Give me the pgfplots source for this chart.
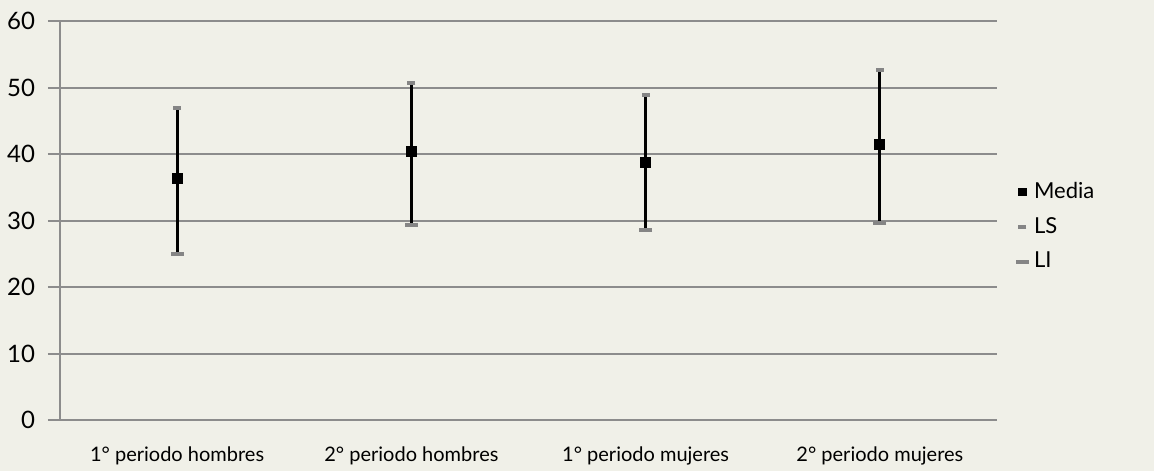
\documentclass[border=0pt]{standalone}
\usepackage{pgfplots}
\pgfplotsset{compat=1.18}
\usepackage{fontspec}
\setmainfont{Lato}
\definecolor{bg}{HTML}{F0F0E8}
\definecolor{gridc}{HTML}{8C8C8C}
\definecolor{markc}{HTML}{858585}
\begin{document}
\begin{tikzpicture}
\useasboundingbox[fill=bg] (0,0) rectangle (577pt,235.5pt);
\begin{axis}[
  at={(30pt,25.5pt)}, anchor=south west,
  scale only axis, width=468.5pt, height=199.5pt,
  xmin=0.5, xmax=4.5, ymin=0, ymax=60,
  xtick={1,2,3,4},
  xticklabels={1° periodo hombres, 2° periodo hombres, 1° periodo mujeres, 2° periodo mujeres},
  minor xtick={0.5,1.5,2.5,3.5,4.5},
  ytick={0,10,...,60},
  axis x line=bottom, axis y line=left,
  axis line style={-, gridc, line width=1pt},
  x tick style={draw=none},
  minor x tick style={gridc, line width=1pt},
  minor tick length=3.5pt,
  y tick style={gridc, line width=1pt},
  major tick length=6pt,
  tick align=outside,
  ymajorgrids, grid style={gridc, line width=1pt},
  /pgf/number format/assume math mode=true,
  tick label style={font=\fontsize{12}{14}\selectfont, text=black},
  yticklabel style={xshift=-3pt},
  xticklabel style={font=\fontsize{10}{12}\selectfont, yshift=-4pt},
  legend style={at={(1.0135,0.485)}, anchor=west, draw=none, fill=none,
    font=\fontsize{11}{13}\selectfont, row sep=4pt,
    nodes={inner xsep=2.6pt}},
  legend cell align=left,
  clip=false,
]
\addplot[draw=none, forget plot, mark=none,
  error bars/.cd, y dir=both, y explicit,
  error bar style={black, line width=1.5pt}, error mark=none]
  coordinates {
  (1,36.3) += (0,10.6) -= (0,11.3)
  (2,40.4) += (0,10.3) -= (0,11.1)
  (3,38.8) += (0,10.0) -= (0,10.3)
  (4,41.5) += (0,11.1) -= (0,11.9)
  };
\addplot[only marks, mark=square*, mark size=2.5pt, black,
  legend image post style={mark size=1.8pt}] coordinates {
  (1,36.3) (2,40.4) (3,38.8) (4,41.5)};
\addlegendentry{Media}
\addplot[only marks, mark=-, mark size=2pt, markc, line width=2pt] coordinates {
  (1,46.9) (2,50.7) (3,48.8) (4,52.6)};
\addlegendentry{LS}
\addplot[only marks, mark=-, mark size=3.2pt, markc, line width=2pt] coordinates {
  (1,25.0) (2,29.3) (3,28.5) (4,29.6)};
\addlegendentry{LI}
\end{axis}
\end{tikzpicture}
\end{document}
